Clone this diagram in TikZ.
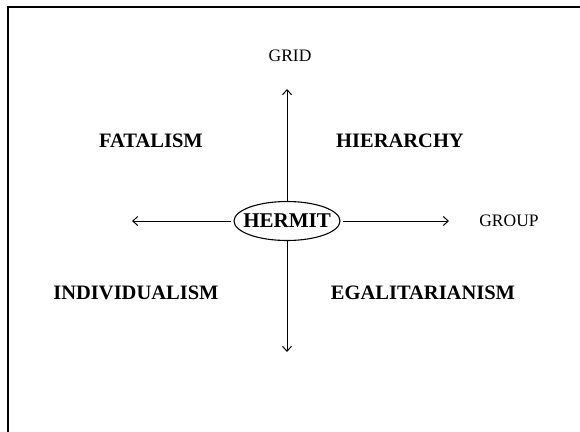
\documentclass[tikz,border=0pt]{standalone}
\usepackage{fontspec}
\setmainfont{Liberation Serif}
\usetikzlibrary{arrows.meta,shapes.geometric}

\tikzset{
  axis/.style={line width=0.8pt, -{Straight Barb[length=5pt,width=9pt,line width=1pt]}},
  culture/.style={font=\fontsize{20.5}{23}\selectfont\bfseries},
  axislabel/.style={font=\fontsize{17.5}{20}\selectfont},
  frameline/.style={line width=1.4pt},
  ring/.style={ellipse, draw, line width=1.1pt, minimum width=106pt,
    minimum height=39pt, inner sep=0pt, outer sep=0pt}
}

\begin{document}
\begin{tikzpicture}[x=1pt,y=-1pt]
  \useasboundingbox (0,0) rectangle (580,431);

  % open frame: left and top edges only
  \draw[frameline] (8,435) -- (8,7) -- (584,7);

  % centre: the ring keeps its own size, the word sits inside it
  \node[ring, label={[font=\fontsize{21}{24}\selectfont\bfseries]center:HERMIT}]
        (hermit) at (287,221) {};

  % axis end points
  \coordinate (up)    at (287,89);
  \coordinate (down)  at (287,352);
  \coordinate (left)  at (132,221);
  \coordinate (right) at (449,221);

  \draw[axis] (hermit.north) -- (up);
  \draw[axis] (hermit.south) -- (down);
  \draw[axis, shorten <=3pt] (hermit.west) -- (left);
  \draw[axis, shorten <=3pt] (hermit.east) -- (right);

  % axis labels
  \node[axislabel] (grid)  at (290,56)  {GRID};
  \node[axislabel] (group) at (509,221) {GROUP};

  % quadrants
  \node[culture] (fatalism)  at (151,141) {FATALISM};
  \node[culture] (hierarchy) at (400,141) {HIERARCHY};
  \node[culture] (indiv)     at (136,293) {INDIVIDUALISM};
  \node[culture] (egal)      at (423,293) {EGALITARIANISM};
\end{tikzpicture}
\end{document}
